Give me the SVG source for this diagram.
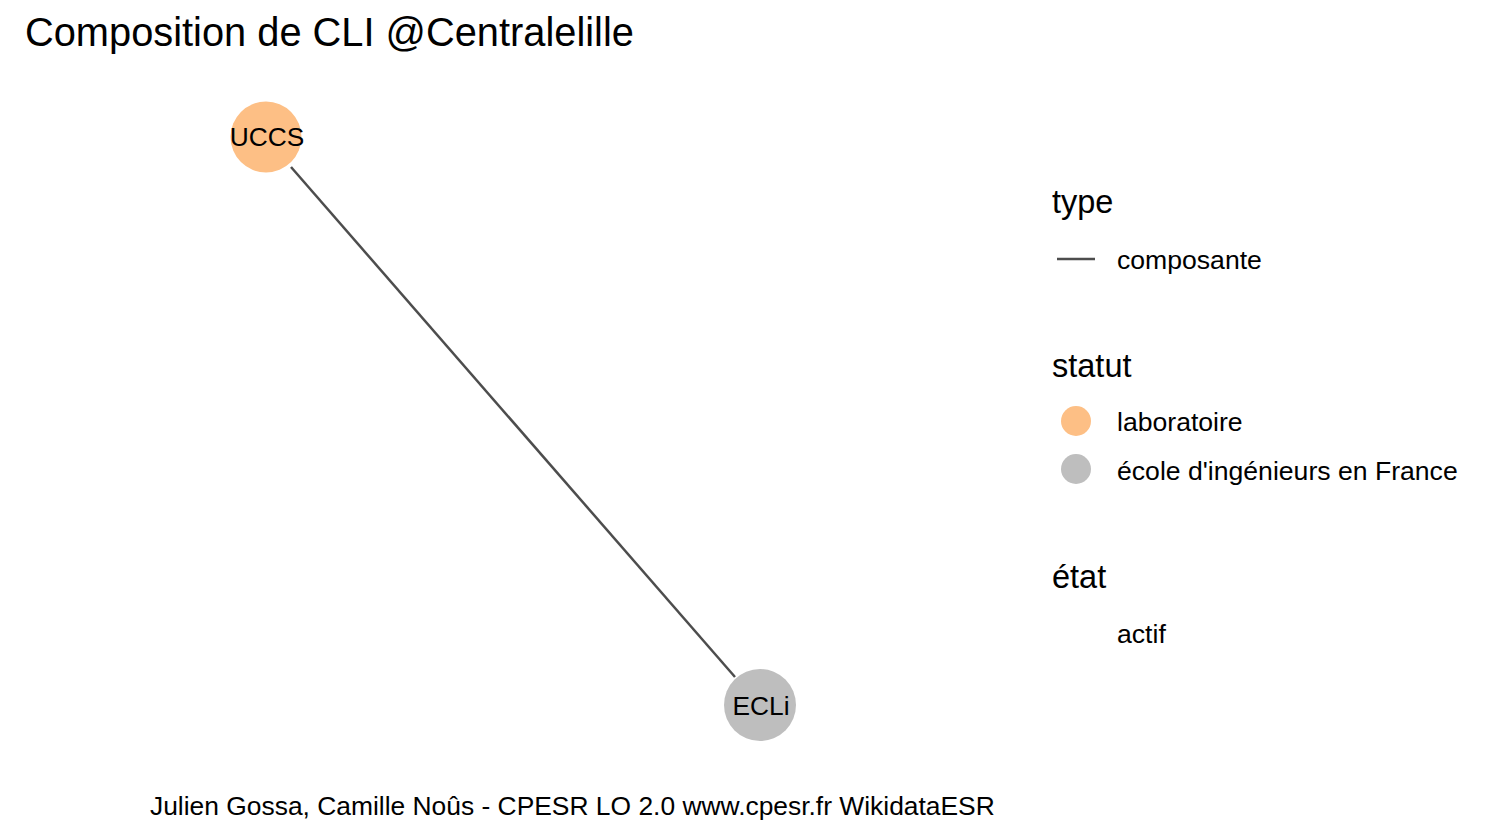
<svg xmlns="http://www.w3.org/2000/svg" width="1492" height="839" viewBox="0 0 1492 839">
<style>
text { font-family: "Liberation Sans", Arial, sans-serif; fill: #000; }
.title { font-size: 39.8px; }
.lt { font-size: 32.5px; }
.ll { font-size: 26.6px; }
.nl { font-size: 26.3px; text-anchor: middle; }
.cap { font-size: 26.4px; }
.edge { stroke: #4d4d4d; stroke-width: 2.5; fill: none; }
</style>
<rect width="1492" height="839" fill="#ffffff"/>
<text class="title" x="25" y="46">Composition de CLI @Centralelille</text>
<g id="connectors">
<line class="edge" x1="291" y1="167" x2="735" y2="677"/>
</g>
<g id="node-uccs">
<circle cx="266" cy="137" r="35.5" fill="#fdbf85"/>
<text class="nl" x="267" y="146">UCCS</text>
</g>
<g id="node-ecli">
<circle cx="760" cy="705" r="36" fill="#bebebe"/>
<text class="nl" x="761" y="715">ECLi</text>
</g>
<g id="legend">
<text class="lt" x="1052" y="213">type</text>
<line class="edge" x1="1057" y1="259" x2="1095" y2="259"/>
<text class="ll" x="1117" y="269">composante</text>
<text class="lt" x="1052" y="377">statut</text>
<circle cx="1076" cy="421" r="15" fill="#fdbf85"/>
<text class="ll" x="1117" y="431">laboratoire</text>
<circle cx="1076" cy="469" r="15" fill="#bebebe"/>
<text class="ll" x="1117" y="480">école d'ingénieurs en France</text>
<text class="lt" x="1052" y="588">état</text>
<text class="ll" x="1117" y="643">actif</text>
</g>
<text class="cap" x="150" y="815">Julien Gossa, Camille Noûs - CPESR LO 2.0 www.cpesr.fr WikidataESR</text>
</svg>
